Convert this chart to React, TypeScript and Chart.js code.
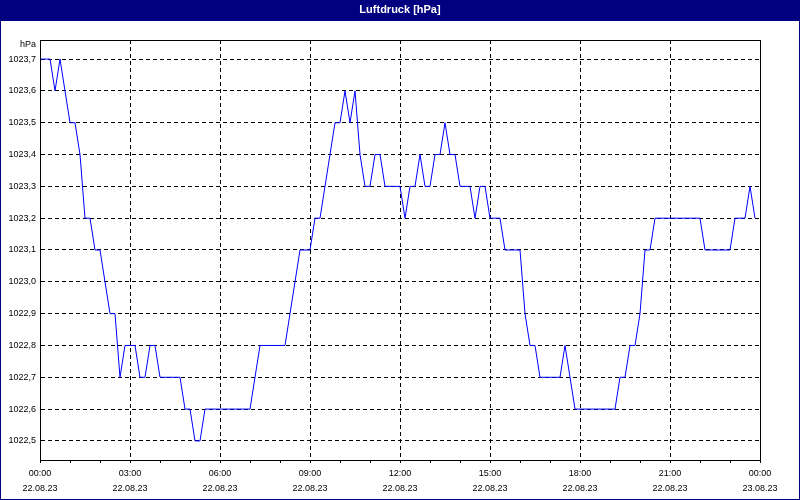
import React, { useEffect, useRef } from 'react';
import { Chart, registerables } from 'chart.js';

Chart.register(...registerables);

const TITLE = 'Luftdruck [hPa]';
const Y_UNIT = 'hPa';
const START_MINUTE = 0;
const STEP_MINUTES = 10;
const X_MIN = 0;
const X_MAX = 1440;
const Y_MIN = 1022.44;
const Y_MAX = 1023.76;

// Luftdruck, one value every 10 minutes from 00:00 to 23:50 on 22.08.23
const PRESSURE: number[] = [
  1023.7, 1023.7, 1023.7, 1023.6, 1023.7, 1023.6, 1023.5, 1023.5, 1023.4, 1023.2, 1023.2, 1023.1,
  1023.1, 1023.0, 1022.9, 1022.9, 1022.7, 1022.8, 1022.8, 1022.8, 1022.7, 1022.7, 1022.8, 1022.8,
  1022.7, 1022.7, 1022.7, 1022.7, 1022.7, 1022.6, 1022.6, 1022.5, 1022.5, 1022.6, 1022.6, 1022.6,
  1022.6, 1022.6, 1022.6, 1022.6, 1022.6, 1022.6, 1022.6, 1022.7, 1022.8, 1022.8, 1022.8, 1022.8,
  1022.8, 1022.8, 1022.9, 1023.0, 1023.1, 1023.1, 1023.1, 1023.2, 1023.2, 1023.3, 1023.4, 1023.5,
  1023.5, 1023.6, 1023.5, 1023.6, 1023.4, 1023.3, 1023.3, 1023.4, 1023.4, 1023.3, 1023.3, 1023.3,
  1023.3, 1023.2, 1023.3, 1023.3, 1023.4, 1023.3, 1023.3, 1023.4, 1023.4, 1023.5, 1023.4, 1023.4,
  1023.3, 1023.3, 1023.3, 1023.2, 1023.3, 1023.3, 1023.2, 1023.2, 1023.2, 1023.1, 1023.1, 1023.1,
  1023.1, 1022.9, 1022.8, 1022.8, 1022.7, 1022.7, 1022.7, 1022.7, 1022.7, 1022.8, 1022.7, 1022.6,
  1022.6, 1022.6, 1022.6, 1022.6, 1022.6, 1022.6, 1022.6, 1022.6, 1022.7, 1022.7, 1022.8, 1022.8,
  1022.9, 1023.1, 1023.1, 1023.2, 1023.2, 1023.2, 1023.2, 1023.2, 1023.2, 1023.2, 1023.2, 1023.2,
  1023.2, 1023.1, 1023.1, 1023.1, 1023.1, 1023.1, 1023.1, 1023.2, 1023.2, 1023.2, 1023.3, 1023.2,
];

const X_TICK_TIMES = ['00:00', '03:00', '06:00', '09:00', '12:00', '15:00', '18:00', '21:00', '00:00'];
const X_TICK_DATES = ['22.08.23', '22.08.23', '22.08.23', '22.08.23', '22.08.23', '22.08.23', '22.08.23', '22.08.23', '23.08.23'];

const FONT_FAMILY = "'Liberation Sans', Arial, sans-serif";

export default function App() {
  const ref = useRef<HTMLCanvasElement>(null);

  useEffect(() => {
    document.body.style.margin = '0';
    const canvas = ref.current;
    if (!canvas) return;

    const points = PRESSURE.map((v, i) => ({ x: START_MINUTE + i * STEP_MINUTES, y: v }));

    const decor = {
      id: 'decor',
      beforeDraw(chart: any) {
        const { ctx, width, height } = chart;
        ctx.save();
        ctx.fillStyle = '#ffffff';
        ctx.fillRect(0, 0, width, height);
        ctx.fillStyle = '#000080';
        ctx.fillRect(0, 0, width, 21);
        ctx.fillStyle = '#ffffff';
        ctx.font = `bold 11px ${FONT_FAMILY}`;
        ctx.textAlign = 'center';
        ctx.textBaseline = 'middle';
        ctx.fillText(TITLE, width / 2, 10);
        ctx.fillStyle = '#000000';
        ctx.font = `9px ${FONT_FAMILY}`;
        ctx.textAlign = 'right';
        ctx.fillText(Y_UNIT, 36, 45);
        ctx.restore();
      },
      afterDraw(chart: any) {
        const { ctx, chartArea: a, width, height } = chart;
        ctx.save();
        ctx.strokeStyle = '#000000';
        ctx.lineWidth = 1;
        ctx.setLineDash([]);
        ctx.strokeRect(
          Math.round(a.left) + 0.5,
          Math.round(a.top) + 0.5,
          Math.round(a.right - a.left),
          Math.round(a.bottom - a.top)
        );
        ctx.strokeStyle = '#000080';
        ctx.strokeRect(0.5, 0.5, width - 1, height - 1);
        ctx.restore();
      },
    };

    const chart = new Chart(canvas, {
      type: 'line',
      data: {
        datasets: [
          {
            data: points,
            borderColor: '#0000ff',
            borderWidth: 1,
            pointRadius: 0,
            tension: 0,
            fill: false,
          },
        ],
      },
      options: {
        animation: false,
        responsive: false,
        layout: { padding: { top: 40, right: 40, left: 0, bottom: 0 } },
        plugins: {
          legend: { display: false },
          tooltip: { enabled: false },
          title: { display: false },
        },
        scales: {
          x: {
            type: 'linear',
            min: X_MIN,
            max: X_MAX,
            ticks: {
              stepSize: 60,
              autoSkip: false,
              maxRotation: 0,
              minRotation: 0,
              padding: 3,
              color: '#000000',
              font: { family: FONT_FAMILY, size: 9, lineHeight: 15 / 9 },
              callback: (value: any) => {
                const v = Number(value);
                if (v % 180 !== 0) return '';
                const idx = v / 180;
                return [X_TICK_TIMES[idx], X_TICK_DATES[idx]];
              },
            },
            grid: {
              color: (c: any) => (c.tick && c.tick.value % 180 === 0 ? '#000000' : 'rgba(0,0,0,0)'),
              lineWidth: 1,
              drawTicks: true,
              tickLength: 3,
              tickColor: '#000000',
              tickWidth: 1,
            },
            border: { display: true, color: '#000000', width: 1, dash: [4, 3] },
            afterFit: (s: any) => {
              s.height = 40;
            },
          },
          y: {
            type: 'linear',
            min: Y_MIN,
            max: Y_MAX,
            ticks: {
              stepSize: 0.1,
              includeBounds: false,
              padding: 4,
              color: '#000000',
              font: { family: FONT_FAMILY, size: 9 },
              callback: (value: any) => Number(value).toFixed(1).replace('.', ','),
            },
            grid: { color: '#000000', lineWidth: 1, drawTicks: false },
            border: { display: true, color: '#000000', width: 1, dash: [4, 3] },
            afterFit: (s: any) => {
              s.width = 40;
            },
          },
        },
      },
      plugins: [decor],
    } as any);

    return () => {
      chart.destroy();
    };
  }, []);

  return (
    <div style={{ width: 800, height: 500 }}>
      <canvas ref={ref} width={800} height={500} style={{ display: 'block', width: 800, height: 500 }} />
    </div>
  );
}
